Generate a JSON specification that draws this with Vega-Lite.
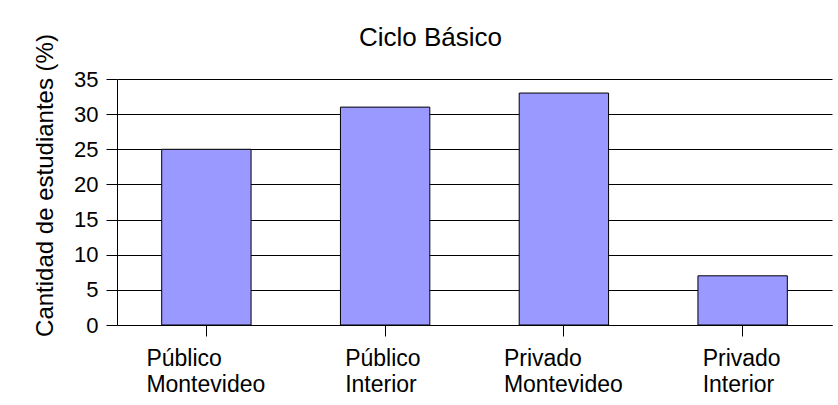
{
  "$schema": "https://vega.github.io/schema/vega-lite/v6.json",
  "width": 715,
  "height": 246,
  "autosize": {"type": "none"},
  "padding": {"left": 117, "top": 79, "right": 6, "bottom": 80},
  "background": "white",
  "title": {
    "text": "Ciclo Básico",
    "font": "Liberation Sans",
    "fontSize": 26,
    "fontWeight": "normal",
    "color": "black",
    "anchor": "middle",
    "dx": -44,
    "dy": 33,
    "baseline": "alphabetic",
    "offset": -5
  },
  "data": {
    "values": [
      {"categoria": "Público Montevideo", "valor": 25},
      {"categoria": "Público Interior", "valor": 31},
      {"categoria": "Privado Montevideo", "valor": 33},
      {"categoria": "Privado Interior", "valor": 7}
    ]
  },
  "mark": {"type": "bar", "color": "#9999FF", "stroke": "black", "strokeWidth": 1},
  "encoding": {
    "x": {
      "field": "categoria",
      "type": "nominal",
      "sort": null,
      "scale": {"paddingInner": 0.5, "paddingOuter": 0.25},
      "axis": {
        "title": null,
        "labelAngle": 0,
        "labelExpr": "split(datum.label, ' ')",
        "labelFont": "Liberation Sans",
        "labelFontSize": 23,
        "labelColor": "black",
        "labelAlign": "left",
        "labelBaseline": "top",
        "labelLineHeight": 26,
        "labelPadding": 11,
        "labelOffset": {"condition": {"test": "indexof(datum.value, 'Montevideo') >= 0", "value": -60}, "value": -40},
        "domainColor": "black",
        "tickColor": "black",
        "tickSize": 11,
        "grid": false
      }
    },
    "y": {
      "field": "valor",
      "type": "quantitative",
      "scale": {"domain": [0, 35], "nice": false},
      "axis": {
        "title": "Cantidad de estudiantes (%)",
        "titleFont": "Liberation Sans",
        "titleFontSize": 24,
        "titleFontWeight": "normal",
        "titleColor": "black",
        "titleAngle": -90,
        "titleAlign": "center",
        "titleBaseline": "alphabetic",
        "titleX": -65,
        "titleY": 106,
        "values": [0, 5, 10, 15, 20, 25, 30, 35],
        "labelFont": "Liberation Sans",
        "labelFontSize": 22,
        "labelColor": "black",
        "labelPadding": 8,
        "domainColor": "black",
        "tickColor": "black",
        "tickSize": 11,
        "grid": true,
        "gridColor": "black",
        "gridOpacity": 1,
        "gridWidth": 1
      }
    }
  },
  "config": {"view": {"stroke": null}}
}
